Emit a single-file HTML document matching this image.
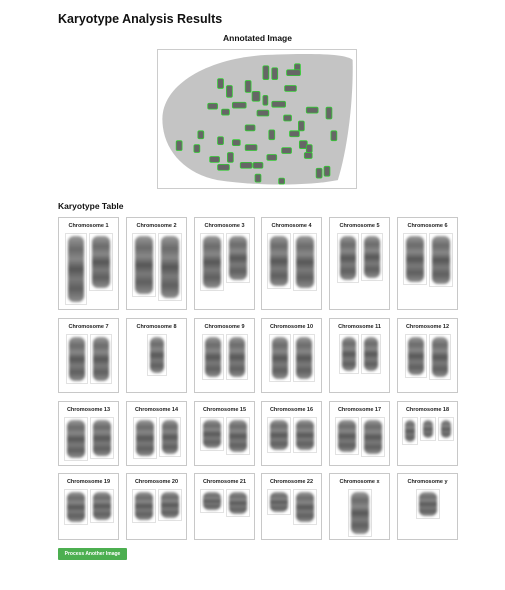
<!DOCTYPE html>
<html><head><meta charset="utf-8">
<style>
body{margin:0;background:#fff;font-family:"Liberation Sans",sans-serif;}
#page{position:relative;width:505px;height:590px;overflow:hidden;}
.h1{position:absolute;left:58px;top:12px;font-size:12.5px;font-weight:bold;color:#111;}
.h2{position:absolute;left:0;width:515px;top:33px;text-align:center;font-size:8.5px;font-weight:bold;color:#111;}
.h3{position:absolute;left:58px;top:201px;font-size:8.5px;font-weight:bold;color:#111;}
#annot{position:absolute;left:157px;top:49px;width:200px;height:140px;border:1px solid #ccc;box-sizing:border-box;}
.cell{position:absolute;border:1px solid #c8c8c8;box-sizing:border-box;background:#fff;}
.cell .t{position:absolute;left:0;right:0;top:5px;text-align:center;font-size:5.5px;font-weight:bold;color:#222;white-space:nowrap;}
.cb{position:absolute;border:1px solid #e2e2e2;box-sizing:border-box;}
.ch{position:absolute;left:2px;right:2px;top:2px;bottom:2px;border-radius:6px;filter:blur(1.2px);}
#btn{position:absolute;left:58px;top:548px;width:69px;height:12px;background:#4caf50;color:#fff;font-size:5px;font-weight:bold;text-align:center;line-height:12px;border-radius:1px;}
</style></head><body>
<div id="page">
<div class="h1">Karyotype Analysis Results</div>
<div class="h2">Annotated Image</div>
<svg id="annot" viewBox="0 0 200 140">
<path d="M4,70 C4,35 50,8 110,5 C160,3 190,4 197,10 C198,50 192,100 182,132 C150,138 100,138 60,132 C25,125 4,100 4,70 Z" fill="#c4c4c4"/>
<g id="marks" fill="#666" stroke="#3c3" stroke-width="0.8"></g>
</svg>
<div class="h3">Karyotype Table</div>
<div id="grid"></div>
<div id="btn">Process Another Image</div>
</div>
<script>
const marks=[[106,20,6,14],[115,22,6,12],[138,18,6,12],[106,50,5,10],[130,24,14,6],[128,40,12,6],[60,33,6,10],[69,40,6,12],[88,35,6,12],[50,58,10,6],[64,64,8,6],[75,57,14,6],[95,46,8,10],[115,56,14,6],[127,70,8,6],[142,76,6,10],[150,62,12,6],[170,62,6,12],[175,86,6,10],[18,96,6,10],[36,100,6,8],[52,112,10,6],[60,92,6,8],[70,108,6,10],[83,118,12,6],[98,130,6,8],[110,110,10,6],[125,103,10,6],[148,108,8,6],[160,124,6,10],[168,122,6,10],[88,100,12,6],[96,118,10,6],[133,86,10,6],[143,96,8,8],[112,85,6,10],[88,80,10,6],[40,86,6,8],[60,120,12,6],[75,95,8,6],[150,100,6,8],[100,65,12,6],[122,134,6,6]];
const g=document.getElementById('marks');
marks.forEach(m=>{const r=document.createElementNS('http://www.w3.org/2000/svg','rect');
r.setAttribute('x',m[0]);r.setAttribute('y',m[1]-4);r.setAttribute('width',m[2]);r.setAttribute('height',m[3]);r.setAttribute('rx',1.5);


g.appendChild(r);});
const names=['1','2','3','4','5','6','7','8','9','10','11','12','13','14','15','16','17','18','19','20','21','22','x','y'];
const colX=[58,126,194,261,329,397];
const rowY=[217,318,401,473];
const rowH=[93,75,65,67];
const chroms=[
[[22,72],[24,58]],[[24,64],[24,68]],[[24,58],[24,50]],[[24,56],[24,58]],[[22,50],[22,48]],[[24,52],[24,54]],
[[22,50],[22,50]],[[20,42]],[[22,46],[22,46]],[[22,48],[22,48]],[[20,40],[20,40]],[[22,44],[22,46]],
[[24,44],[24,42]],[[24,42],[22,40]],[[24,34],[24,38]],[[24,36],[24,36]],[[24,38],[24,40]],[[16,28],[16,24],[16,24]],
[[24,36],[24,34]],[[24,34],[24,32]],[[24,24],[24,28]],[[24,26],[24,36]],[[24,48]],[[24,30]]];
const grid=document.getElementById('grid');
names.forEach((n,i)=>{
 const r=Math.floor(i/6),c=i%6;
 const cell=document.createElement('div');cell.className='cell';
 
 
 cell.style.left=colX[c]+'px';cell.style.top=rowY[r]+'px';cell.style.width='61px';cell.style.height=rowH[r]+'px';
 const t=document.createElement('div');t.className='t';t.textContent='Chromosome '+n;
 
 
 cell.appendChild(t);
 const cs=chroms[i];const tot=cs.reduce((a,b)=>a+b[0]+2,0);let x=(61-tot)/2;
 cs.forEach(d=>{
  const b=document.createElement('div');b.className='cb';
  
  
  b.style.left=x+'px';b.style.top='15px';b.style.width=d[0]+'px';b.style.height=d[1]+'px';
  const s=document.createElement('div');s.className='ch';
  s.style.background='linear-gradient(180deg,#9a9a9a 0%,#6a6a6a 20%,#888 35%,#555 50%,#7a7a7a 65%,#5e5e5e 80%,#8e8e8e 100%)';
  b.appendChild(s);cell.appendChild(b);x+=d[0]+2;
 });
 grid.appendChild(cell);
});
</script>
</body></html>
